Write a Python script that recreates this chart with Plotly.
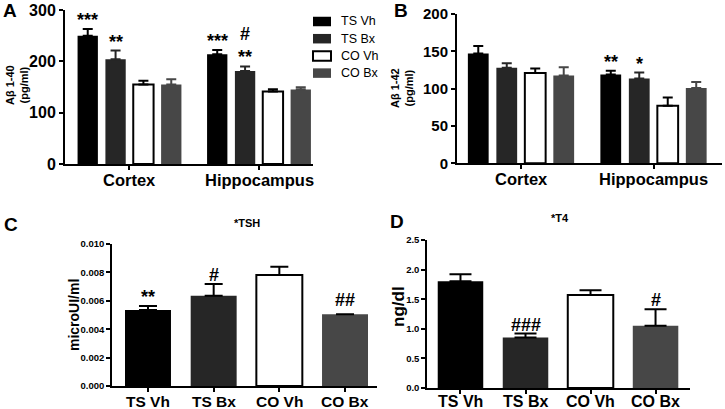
import plotly.graph_objects as go

W, H = 725, 409

# ---------------- data ----------------
series = ["TS Vh", "TS Bx", "CO Vh", "CO Bx"]
regions = ["Cortex", "Hippocampus"]

ab40_mean = [[250, 214], [204, 181], [155, 141], [155, 145]]
ab40_err = [[13, 8], [17, 9], [7, 4.5], [10, 4.5]]
ab40_sig = [["***", "***"], ["**", "#<br>**"], ["", ""], ["", ""]]

ab42_mean = [[147, 119], [128, 113.5], [121, 77], [117.5, 101]]
ab42_err = [[10, 5], [6, 8], [6, 11], [11, 8]]
ab42_sig = [["", "**"], ["", "*"], ["", ""], ["", ""]]

tsh_mean = [0.00535, 0.00636, 0.00782, 0.00505]
tsh_err = [0.00028, 0.00082, 0.00058, 0.0]
tsh_sig = ["**", "#", "", "##"]

t4_mean = [1.805, 0.853, 1.57, 1.05]
t4_err = [0.115, 0.067, 0.08, 0.28]
t4_sig = ["", "###", "", "#"]

ticks_ab40 = [0, 100, 200, 300]
ticks_ab42 = [0, 50, 100, 150, 200]
ticks_tsh = [0.000, 0.002, 0.004, 0.006, 0.008, 0.010]
ticks_t4 = [0.0, 0.5, 1.0, 1.5, 2.0, 2.5]

# ---------------- style ----------------
fills = ["#000000", "#262626", "#ffffff", "#474747"]
err_cols = ["#000000", "#262626", "#000000", "#474747"]
line_w = [0, 0, 2, 0]
FONT = "Liberation Sans, Arial, sans-serif"
BARGAP = 0.14


def px_x(p):
    return p / W


def px_y(p):
    return 1 - p / H


fig = go.Figure()

boxes = {
    "A": dict(x=(65, 313), y=(10, 164), xr=[-0.498, 1.417], lab_y=180),
    "B": dict(x=(457, 722), y=(14, 163.3), xr=[-0.483, 1.517], lab_y=179),
    "C": dict(x=(112, 377), y=(244, 386), xr=[-0.548, 3.487], lab_y=401.5),
    "D": dict(x=(427, 690), y=(240, 388), xr=[-0.515, 3.53], lab_y=401.5),
}
axnames = {"A": ("x", "y"), "B": ("x2", "y2"), "C": ("x3", "y3"), "D": ("x4", "y4")}

for panel, means, errs in [("A", ab40_mean, ab40_err), ("B", ab42_mean, ab42_err)]:
    xa, ya = axnames[panel]
    for i, s in enumerate(series):
        fig.add_trace(go.Bar(
            x=regions, y=means[i], name=s, xaxis=xa, yaxis=ya, showlegend=False,
            marker=dict(color=fills[i], line=dict(color="#000000", width=line_w[i])),
            error_y=dict(type="data", symmetric=False, array=errs[i],
                         arrayminus=[0] * len(errs[i]), color=err_cols[i],
                         thickness=2, width=5),
        ))

for panel, means, errs, cap in [("C", tsh_mean, tsh_err, 9), ("D", t4_mean, t4_err, 11)]:
    xa, ya = axnames[panel]
    fig.add_trace(go.Bar(
        x=series, y=means, xaxis=xa, yaxis=ya, showlegend=False, width=0.7,
        marker=dict(color=fills, line=dict(color="#000000", width=line_w)),
        error_y=dict(type="data", symmetric=False, array=errs,
                     arrayminus=[0] * len(errs), color="#000000",
                     thickness=2, width=cap),
    ))

layout = dict(
    width=W, height=H, margin=dict(l=0, r=0, t=0, b=0),
    paper_bgcolor="white", plot_bgcolor="white",
    font=dict(family=FONT, color="#000000"),
    barmode="group", bargap=BARGAP, bargroupgap=0.27,
    showlegend=False,
)

cfg = {
    "A": dict(tv=ticks_ab40, yr=[0, 300], tfs=16, xfs=16.5, lw=2, fmt="{:.0f}", cats=regions),
    "B": dict(tv=ticks_ab42, yr=[0, 200], tfs=15, xfs=16.5, lw=2, fmt="{:.0f}", cats=regions),
    "C": dict(tv=ticks_tsh, yr=[0, 0.010], tfs=9.5, xfs=15.5, lw=1.5, fmt="{:.3f}", cats=series),
    "D": dict(tv=ticks_t4, yr=[0, 2.5], tfs=9.5, xfs=16, lw=1.5, fmt="{:.1f}", cats=series),
}
ann = []
shapes = []
for k, (xa, ya) in axnames.items():
    b = boxes[k]
    c = cfg[k]
    xkey = "xaxis" if xa == "x" else "xaxis" + xa[1:]
    ykey = "yaxis" if ya == "y" else "yaxis" + ya[1:]
    layout[xkey] = dict(
        domain=[px_x(b["x"][0]), px_x(b["x"][1])], anchor=ya, range=b["xr"],
        type="category", showline=True, linecolor="#000000", linewidth=c["lw"],
        ticks="outside", ticklen=4, tickwidth=c["lw"], tickcolor="#000000",
        tickvals=c["cats"], showticklabels=False,
        showgrid=False, zeroline=False, automargin=False,
    )
    for cat in c["cats"]:
        ann.append(dict(x=cat, xref=xa, y=px_y(b["lab_y"]), yref="paper",
                        text="<b>%s</b>" % cat, showarrow=False,
                        xanchor="center", yanchor="middle",
                        font=dict(size=c["xfs"], family=FONT)))
    layout[ykey] = dict(
        domain=[px_y(b["y"][1]), px_y(b["y"][0])], anchor=xa, range=c["yr"],
        showline=True, linecolor="#000000", linewidth=c["lw"],
        ticks="outside", ticklen=4, tickwidth=c["lw"], tickcolor="#000000",
        tickvals=c["tv"], ticktext=["<b>%s</b>" % c["fmt"].format(v) for v in c["tv"]],
        showgrid=False, zeroline=False, automargin=False,
        tickfont=dict(size=c["tfs"], family=FONT),
    )

fig.update_layout(**layout)

slot = (1 - BARGAP) / len(series)
for ya, xa, means, errs, sigs in [("y", "x", ab40_mean, ab40_err, ab40_sig),
                                  ("y2", "x2", ab42_mean, ab42_err, ab42_sig)]:
    for i in range(len(series)):
        for g in range(len(regions)):
            if sigs[i][g]:
                ann.append(dict(x=g + (i - 1.5) * slot, y=means[i][g] + errs[i][g],
                                xref=xa, yref=ya, text="<b>%s</b>" % sigs[i][g],
                                showarrow=False, yanchor="bottom", yshift=-3,
                                font=dict(size=18, family=FONT)))
for ya, xa, means, errs, sigs in [("y3", "x3", tsh_mean, tsh_err, tsh_sig),
                                  ("y4", "x4", t4_mean, t4_err, t4_sig)]:
    for i in range(len(series)):
        if sigs[i]:
            ann.append(dict(x=i, y=means[i] + errs[i], xref=xa, yref=ya,
                            text="<b>%s</b>" % sigs[i], showarrow=False, yanchor="bottom",
                            yshift=-3 if errs[i] else 2,
                            font=dict(size=18, family=FONT)))


def pann(x, y, text, size, angle=0, bold=True, xanchor="center"):
    ann.append(dict(x=px_x(x), y=px_y(y), xref="paper", yref="paper",
                    text=("<b>%s</b>" % text) if bold else text,
                    showarrow=False, textangle=angle, xanchor=xanchor, yanchor="middle",
                    font=dict(size=size, family=FONT)))


pann(10, 10, "A", 19)
pann(401, 11, "B", 19)
pann(11, 224, "C", 19)
pann(397, 221, "D", 19)
pann(247, 223, "*TSH", 11)
pann(560, 218, "*T4", 11)
pann(17, 85, "Aβ 1-40<br>(pg/ml)", 11, -90)
pann(402, 88, "Aβ 1-42<br>(pg/ml)", 11, -90)
pann(74, 315, "microUI/ml", 14, -90)
pann(398, 307, "ng/dl", 17, -90)

LEG_X0, LEG_Y0, LEG_DY, SW_W, SW_H = 313, 21.5, 17.2, 18, 9.5
for i, s in enumerate(series):
    cy = LEG_Y0 + i * LEG_DY
    shapes.append(dict(type="rect", xref="paper", yref="paper",
                       x0=px_x(LEG_X0), x1=px_x(LEG_X0 + SW_W),
                       y0=px_y(cy + SW_H / 2), y1=px_y(cy - SW_H / 2),
                       fillcolor=fills[i],
                       line=dict(color="#000000", width=2 if line_w[i] else 0)))
    pann(LEG_X0 + 26, cy, s, 12.5, bold=False, xanchor="left")

fig.update_layout(annotations=ann, shapes=shapes)
fig.write_html("out.html", config={"displayModeBar": False},
               post_script="document.body.style.margin='0px';document.body.style.overflow='hidden';")
